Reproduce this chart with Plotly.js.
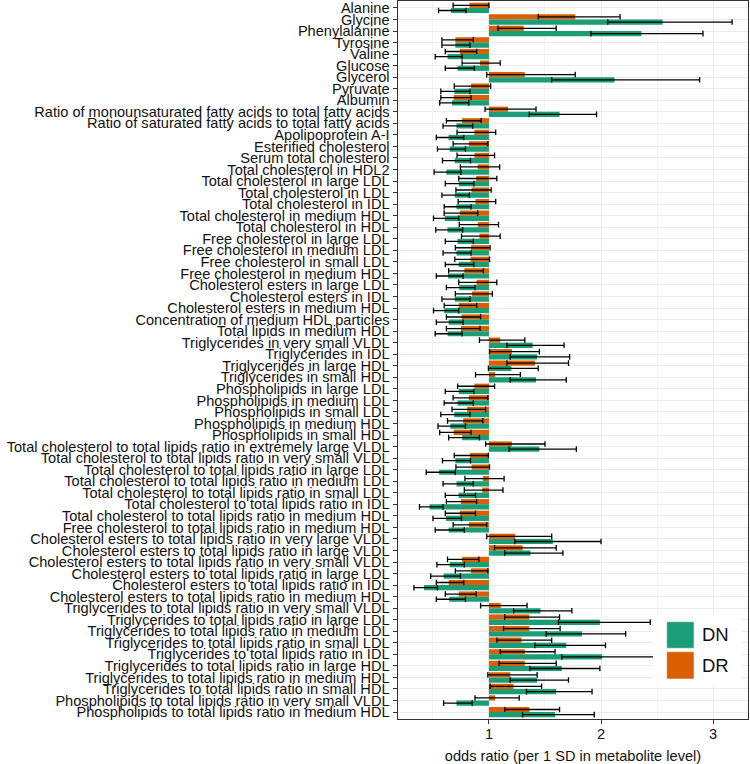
<!DOCTYPE html>
<html>
<head>
<meta charset="utf-8">
<script src="https://cdn.plot.ly/plotly-3.0.1.min.js"></script>
<style>html,body{margin:0;padding:0;background:#fff;}#chart{width:750px;height:764px;}</style>
</head>
<body>
<div id="chart"></div>
<script>
const categories = [
"Alanine","Glycine","Phenylalanine","Tyrosine","Valine","Glucose","Glycerol","Pyruvate","Albumin",
"Ratio of monounsaturated fatty acids to total fatty acids",
"Ratio of saturated fatty acids to total fatty acids",
"Apolipoprotein A-I","Esterified cholesterol","Serum total cholesterol",
"Total cholesterol in HDL2","Total cholesterol in large LDL","Total cholesterol in LDL",
"Total cholesterol in IDL","Total cholesterol in medium HDL","Total cholesterol in HDL",
"Free cholesterol in large LDL","Free cholesterol in medium LDL","Free cholesterol in small LDL",
"Free cholesterol in medium HDL","Cholesterol esters in large LDL","Cholesterol esters in IDL",
"Cholesterol esters in medium HDL","Concentration of medium HDL particles","Total lipids in medium HDL",
"Triglycerides in very small VLDL","Triglycerides in IDL","Triglycerides in large HDL",
"Triglycerides in small HDL","Phospholipids in large LDL","Phospholipids in medium LDL",
"Phospholipids in small LDL","Phospholipids in medium HDL","Phospholipids in small HDL",
"Total cholesterol to total lipids ratio in extremely large VLDL",
"Total cholesterol to total lipids ratio in very small VLDL",
"Total cholesterol to total lipids ratio in large LDL",
"Total cholesterol to total lipids ratio in medium LDL",
"Total cholesterol to total lipids ratio in small LDL",
"Total cholesterol to total lipids ratio in IDL",
"Total cholesterol to total lipids ratio in medium HDL",
"Free cholesterol to total lipids ratio in medium HDL",
"Cholesterol esters to total lipids ratio in very large VLDL",
"Cholesterol esters to total lipids ratio in large VLDL",
"Cholesterol esters to total lipids ratio in very small VLDL",
"Cholesterol esters to total lipids ratio in large LDL",
"Cholesterol esters to total lipids ratio in IDL",
"Cholesterol esters to total lipids ratio in medium HDL",
"Triglycerides to total lipids ratio in very small VLDL",
"Triglycerides to total lipids ratio in large LDL",
"Triglycerides to total lipids ratio in medium LDL",
"Triglycerides to total lipids ratio in small LDL",
"Triglycerides to total lipids ratio in IDL",
"Triglycerides to total lipids ratio in large HDL",
"Triglycerides to total lipids ratio in medium HDL",
"Triglycerides to total lipids ratio in small HDL",
"Phospholipids to total lipids ratio in very small VLDL",
"Phospholipids to total lipids ratio in medium HDL"
];

const dnOR = [0.66,2.55,2.36,0.70,0.63,0.72,2.12,0.69,0.67,1.63,0.71,0.64,0.65,0.695,0.62,0.73,0.695,0.71,0.605,0.63,
0.72,0.71,0.73,0.635,0.735,0.695,0.60,0.64,0.63,1.39,1.43,1.20,1.42,0.73,0.72,0.69,0.655,0.76,1.45,0.70,
0.555,0.71,0.73,0.47,0.615,0.64,1.57,1.37,0.65,0.595,0.42,0.645,1.46,1.99,1.83,1.69,2.01,1.65,1.43,1.60,0.71,1.59];
const dnLow = [0.55,2.06,1.91,0.58,0.52,0.61,1.56,0.57,0.56,1.36,0.59,0.53,0.54,0.585,0.51,0.61,0.58,0.60,0.505,0.525,
0.61,0.59,0.61,0.53,0.62,0.58,0.505,0.53,0.52,1.16,1.19,0.995,1.19,0.61,0.60,0.57,0.545,0.64,1.18,0.585,
0.44,0.59,0.61,0.38,0.50,0.52,1.23,1.14,0.535,0.48,0.33,0.53,1.22,1.62,1.51,1.41,1.65,1.365,1.19,1.335,0.595,1.30];
const dnHigh = [0.795,3.17,2.91,0.83,0.76,0.87,2.88,0.83,0.82,1.96,0.855,0.775,0.79,0.835,0.75,0.865,0.825,0.84,0.73,0.765,
0.86,0.84,0.865,0.77,0.875,0.83,0.73,0.77,0.76,1.67,1.72,1.44,1.69,0.865,0.86,0.83,0.79,0.915,1.78,0.835,
0.70,0.86,0.88,0.59,0.755,0.78,2.00,1.66,0.78,0.745,0.54,0.79,1.74,2.44,2.22,2.04,2.50,1.99,1.71,1.92,0.85,1.94];

const drOR = [0.825,1.77,1.31,0.70,0.74,0.92,1.32,0.84,0.685,1.17,0.76,0.87,0.82,0.87,0.90,0.885,0.845,0.88,0.74,0.90,
0.915,0.84,0.835,0.78,0.89,0.85,0.73,0.755,0.75,1.10,1.205,1.41,1.055,0.87,0.82,0.805,0.77,0.685,1.205,0.83,
0.845,0.945,0.94,0.75,0.74,0.82,1.235,1.30,0.76,0.84,0.64,0.73,1.105,1.36,1.36,1.29,1.32,1.32,1.19,1.22,1.055,1.36];
const drLow = [0.68,1.44,1.08,0.58,0.61,0.76,0.98,0.69,0.57,0.965,0.62,0.715,0.68,0.715,0.745,0.73,0.705,0.725,0.60,0.735,
0.755,0.70,0.695,0.64,0.73,0.70,0.60,0.62,0.62,0.915,1.005,1.16,0.88,0.72,0.68,0.67,0.63,0.56,0.97,0.69,
0.705,0.785,0.78,0.62,0.61,0.68,0.98,1.05,0.63,0.70,0.53,0.61,0.925,1.14,1.13,1.07,1.10,1.09,0.99,1.01,0.875,1.14];
const drHigh = [1.00,2.17,1.60,0.86,0.89,1.10,1.77,1.015,0.84,1.42,0.93,1.06,0.99,1.05,1.095,1.07,1.02,1.06,0.90,1.085,
1.10,1.01,1.005,0.95,1.07,1.03,0.89,0.925,0.92,1.32,1.45,1.71,1.28,1.05,0.99,0.97,0.945,0.84,1.50,0.995,
1.005,1.135,1.125,0.89,0.88,0.98,1.56,1.60,0.91,0.99,0.775,0.885,1.34,1.63,1.635,1.56,1.59,1.60,1.43,1.47,1.27,1.63];

const seriesNames = ["DN","DR"];
const colorDN = "#1b9e77", colorDR = "#d95f02";
const refLine = 1;

function mkTrace(name, orv, lo, hi, color) {
  return {
    type: "bar", orientation: "h", name: name,
    y: categories,
    x: orv.map(v => v - refLine),
    base: refLine,
    marker: {color: color, line: {width: 0}},
    error_x: {
      type: "data", symmetric: false,
      array: hi.map((h, i) => h - orv[i]),
      arrayminus: lo.map((l, i) => orv[i] - l),
      color: "#000000", thickness: 1.3, width: 2.8
    },
    hoverinfo: "skip", showlegend: false
  };
}

const traces = [
  mkTrace(seriesNames[1], drOR, drLow, drHigh, colorDR),
  mkTrace(seriesNames[0], dnOR, dnLow, dnHigh, colorDN)
];

const fontFam = "Liberation Sans, Arial, Helvetica, sans-serif";
const grid = "#ebebeb";
const axc = "#333333";

const layout = {
  width: 750, height: 764,
  margin: {l: 398, r: 2, t: 1, b: 45, pad: 0},
  paper_bgcolor: "#fff", plot_bgcolor: "#fff",
  barmode: "group", bargap: 0.1, bargroupgap: 0,
  showlegend: false,
  font: {family: fontFam, size: 14.6, color: "#111"},
  xaxis: {
    range: [0.188, 3.312], tickmode: "linear", tick0: 1, dtick: 1,
    showgrid: true, gridcolor: grid, gridwidth: 1,
    minor: {tickmode: "linear", tick0: 0.5, dtick: 0.5, showgrid: true, gridcolor: grid, gridwidth: 0.6, ticks: ""},
    zeroline: false, showline: true, mirror: true, linecolor: axc, linewidth: 1,
    ticks: "outside", ticklen: 4, tickcolor: axc, tickwidth: 1,
    ticklabelstandoff: -3,
    tickfont: {family: fontFam, size: 14.6, color: "#111"},
    title: {text: "odds ratio (per 1 SD in metabolite level)", font: {family: fontFam, size: 14.6, color: "#111"}, standoff: 10},
    automargin: false
  },
  yaxis: {
    type: "category", categoryorder: "array", categoryarray: categories,
    tickmode: "linear", tick0: 0, dtick: 1,
    range: [categories.length - 0.4, -0.6], autorange: false,
    showgrid: true, gridcolor: grid, gridwidth: 1,
    zeroline: false, showline: true, mirror: true, linecolor: axc, linewidth: 1,
    ticks: "outside", ticklen: 4.5, tickcolor: axc, tickwidth: 1,
    tickfont: {family: fontFam, size: 14.6, color: "#111"},
    automargin: false
  },
  shapes: [
    {type: "rect", xref: "paper", yref: "paper", x0: 0.7286, x1: 0.983, y0: 0.046, y1: 0.1448,
     fillcolor: "#ffffff", line: {width: 0}, layer: "above"},
    {type: "rect", xref: "paper", yref: "paper", x0: 0.7677, x1: 0.8457, y0: 0.0985, y1: 0.1355,
     fillcolor: colorDN, line: {color: "#ffffff", width: 0.5}, layer: "above"},
    {type: "rect", xref: "paper", yref: "paper", x0: 0.7677, x1: 0.8457, y0: 0.0557, y1: 0.0937,
     fillcolor: colorDR, line: {color: "#ffffff", width: 0.5}, layer: "above"}
  ],
  annotations: [
    {xref: "paper", yref: "paper", x: 0.8629, y: 0.117, xanchor: "left", yanchor: "middle",
     text: seriesNames[0], showarrow: false, font: {family: fontFam, size: 18.5, color: "#111"}},
    {xref: "paper", yref: "paper", x: 0.8629, y: 0.0748, xanchor: "left", yanchor: "middle",
     text: seriesNames[1], showarrow: false, font: {family: fontFam, size: 18.5, color: "#111"}}
  ]
};

Plotly.newPlot("chart", traces, layout, {displayModeBar: false, staticPlot: true});
</script>
</body>
</html>
